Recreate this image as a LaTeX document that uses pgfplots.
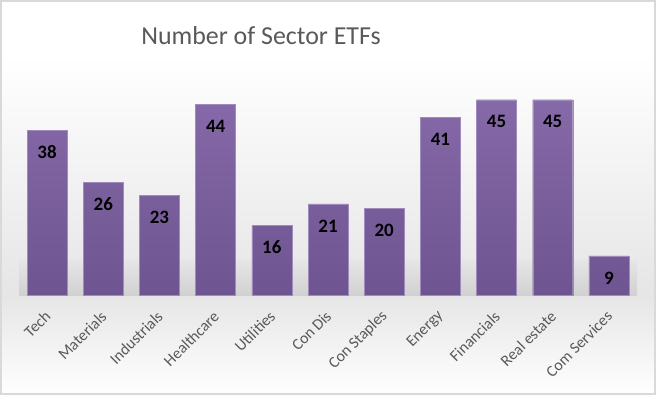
\documentclass[border=0pt]{standalone}
\usepackage{pgfplots}
\pgfplotsset{compat=1.18}
\usepackage{fontspec}
\setmainfont{Carlito}
\definecolor{barTop}{HTML}{8669A8}
\definecolor{barBot}{HTML}{6E5491}
\definecolor{barEdge}{HTML}{A08BBD}
\definecolor{txt}{HTML}{595959}
\begin{document}
\begin{tikzpicture}[x=1bp,y=1bp]
\useasboundingbox (0,0) rectangle (656,395);
\fill[white] (0,0) rectangle (656,395);
\shade[top color=white, bottom color=black!10] (0,100) rectangle (656,340);
\shade[top color=black!10, bottom color=white] (0,0) rectangle (656,100);
\shade[top color=black!10, bottom color=black!18] (19,100) rectangle (637,135);
\draw[black!15, line width=2bp] (1,1) rectangle (655,394);
\node[text=txt, font=\fontsize{26}{30}\selectfont] at (261, 359) {Number of Sector ETFs};
\begin{axis}[
  at={(19bp,100bp)}, anchor=south west,
  scale only axis, width=618bp, height=217bp,
  xmin=-0.5, xmax=10.5, ymin=0, ymax=50,
  axis x line*=bottom, axis y line=none,
  x axis line style={draw=none},
  xtick=data, xtick style={draw=none},
  xticklabels={Tech,Materials,Industrials,Healthcare,Utilities,Con Dis,Con Staples,Energy,Financials,Real estate,Com Services},
  xticklabel style={xshift=3bp, yshift=-12bp, rotate=45, anchor=east, font=\fontsize{16}{18}\selectfont, text=txt},
  ytick=\empty,
  ybar, bar width=40bp, bar shift=0pt,
  /pgf/number format/assume math mode=true,
  nodes near coords,
  every node near coord/.append style={anchor=center, yshift=-22bp, font=\bfseries\fontsize{19}{22}\selectfont, text=black},
]
\addplot[draw=barEdge, top color=barTop, bottom color=barBot] coordinates {
(0,38) (1,26) (2,23) (3,44) (4,16) (5,21) (6,20) (7,41) (8,45) (9,45) (10,9)
};
\end{axis}
\end{tikzpicture}
\end{document}
